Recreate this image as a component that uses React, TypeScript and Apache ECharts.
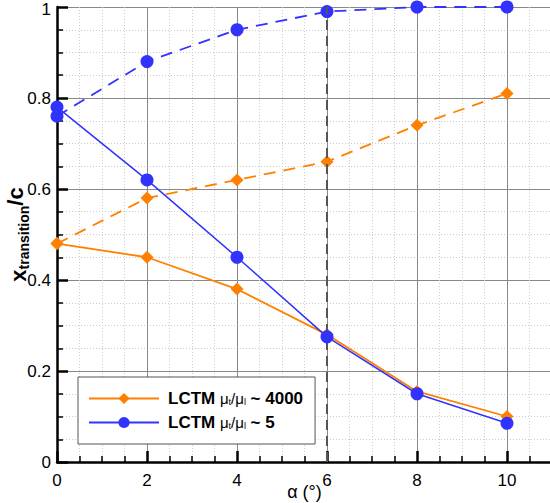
import React, { useEffect, useRef } from "react";
import * as echarts from "echarts";

const alphaDeg = [0, 2, 4, 6, 8, 10];
const lctm4000Solid = [0.48, 0.45, 0.38, 0.28, 0.155, 0.1];
const lctm4000Dashed = [0.48, 0.58, 0.62, 0.66, 0.74, 0.81];
const lctm5Solid = [0.78, 0.62, 0.45, 0.275, 0.15, 0.085];
const lctm5Dashed = [0.76, 0.88, 0.95, 0.99, 1.0, 1.0];
const markerAlpha = 6;

const ORANGE = "#ff8000";
const BLUE = "#3232ff";
const FONT = "Liberation Sans, Arial, Helvetica, sans-serif";

const pairs = (ys: number[]) => alphaDeg.map((x, i) => [x, ys[i]]);

export default function App() {
  const ref = useRef<HTMLDivElement>(null);
  useEffect(() => {
    if (!ref.current) return;
    const chart = echarts.init(ref.current, undefined, { renderer: "svg" });
    const legendRich = {
      b: { fontFamily: FONT, fontWeight: "bold", fontSize: 17, color: "#000" },
      g: { fontFamily: FONT, fontWeight: "normal", fontSize: 15, color: "#000" },
      s: { fontFamily: FONT, fontWeight: "normal", fontSize: 9, color: "#000", padding: [6, 0, 0, 0] },
    };
    chart.setOption({
      animation: false,
      backgroundColor: "#fff",
      grid: { left: 57, right: -2, top: 7, bottom: 41, containLabel: false, outerBoundsMode: "none" },
      legend: {
        data: ["LCTM 4000", "LCTM 5"],
        orient: "vertical",
        left: 78,
        top: 377,
        itemWidth: 70,
        itemHeight: 14,
        itemGap: 7,
        padding: [13, 12, 13, 10],
        backgroundColor: "#fff",
        borderColor: "#555",
        borderWidth: 1,
        borderRadius: 0,
        formatter: (name: string) =>
          name === "LCTM 4000"
            ? "{b|LCTM }{g|μ}{s|t}{g|/μ}{s|l}{b| ~ 4000}"
            : "{b|LCTM }{g|μ}{s|t}{g|/μ}{s|l}{b| ~ 5}",
        textStyle: { rich: legendRich, padding: [0, 0, 0, 4] },
      },
      xAxis: {
        type: "value",
        min: 0,
        max: 11,
        interval: 2,
        name: "α (°)",
        nameLocation: "middle",
        nameGap: 21,
        nameMoveOverlap: false,
        nameTextStyle: { fontFamily: FONT, fontSize: 18, color: "#000" },
        axisLine: { show: true, onZero: false, lineStyle: { color: "#000", width: 2.5 } },
        axisTick: { show: true, inside: true, length: 11, lineStyle: { color: "#000", width: 2.5 } },
        minorTick: { show: true, splitNumber: 4, length: 6, lineStyle: { color: "#000", width: 1.5 } },
        axisLabel: { show: true, showMaxLabel: false, fontFamily: FONT, fontSize: 17, color: "#000", margin: 10 },
        splitLine: { show: true, lineStyle: { color: "#888", width: 1 } },
        minorSplitLine: { show: true, lineStyle: { color: "#ccc", width: 1, type: [1, 2] } },
      },
      yAxis: {
        type: "value",
        min: 0,
        max: 1,
        interval: 0.2,
        name: "{x|x}{sub|transition}{c|/c}",
        nameLocation: "middle",
        nameGap: 25,
        nameMoveOverlap: false,
        nameRotate: 90,
        nameTextStyle: {
          fontFamily: FONT,
          color: "#000",
          rich: {
            x: { fontFamily: FONT, fontSize: 22, fontWeight: "bold", color: "#000" },
            sub: { fontFamily: FONT, fontSize: 14, fontWeight: "bold", color: "#000", padding: [12, 0, 0, 0] },
            c: { fontFamily: FONT, fontSize: 22, fontWeight: "bold", color: "#000", padding: [0, 0, 6, 0] },
          },
        },
        axisLine: { show: true, onZero: false, lineStyle: { color: "#000", width: 2.5 } },
        axisTick: { show: true, inside: true, length: 11, lineStyle: { color: "#000", width: 2.5 } },
        minorTick: { show: true, splitNumber: 4, length: 6, lineStyle: { color: "#000", width: 1.5 } },
        axisLabel: {
          show: true,
          fontFamily: FONT,
          fontSize: 17,
          color: "#000",
          margin: 6,
          formatter: (v: number) => (v === 1 ? "{t|1}" : String(v)),
          rich: { t: { fontFamily: FONT, fontSize: 17, color: "#000", padding: [5, 0, 0, 0] } },
        },
        splitLine: { show: true, lineStyle: { color: "#888", width: 1 } },
        minorSplitLine: { show: true, lineStyle: { color: "#ccc", width: 1, type: [1, 2] } },
      },
      series: [
        {
          name: "ref",
          type: "line",
          data: [],
          silent: true,
          markLine: {
            silent: true,
            symbol: "none",
            label: { show: false },
            lineStyle: { color: "#555", width: 2, type: [10, 6] },
            data: [{ xAxis: markerAlpha }],
          },
        },
        {
          name: "LCTM 4000 dashed",
          type: "line",
          data: pairs(lctm4000Dashed),
          symbol: "diamond",
          symbolSize: 13,
          itemStyle: { color: ORANGE },
          lineStyle: { color: ORANGE, width: 1.8, type: [12, 8] },
          z: 3,
        },
        {
          name: "LCTM 5 dashed",
          type: "line",
          data: pairs(lctm5Dashed),
          symbol: "circle",
          symbolSize: 13,
          itemStyle: { color: BLUE },
          lineStyle: { color: BLUE, width: 1.8, type: [12, 8] },
          z: 3,
        },
        {
          name: "LCTM 4000",
          type: "line",
          data: pairs(lctm4000Solid),
          symbol: "diamond",
          symbolSize: 13,
          itemStyle: { color: ORANGE },
          lineStyle: { color: ORANGE, width: 1.8 },
          z: 4,
        },
        {
          name: "LCTM 5",
          type: "line",
          data: pairs(lctm5Solid),
          symbol: "circle",
          symbolSize: 13,
          itemStyle: { color: BLUE },
          lineStyle: { color: BLUE, width: 1.5 },
          z: 5,
        },
      ],
    });
    return () => chart.dispose();
  }, []);
  return <div ref={ref} style={{ width: 550, height: 503, position: "absolute", left: 0, top: 0 }} />;
}
